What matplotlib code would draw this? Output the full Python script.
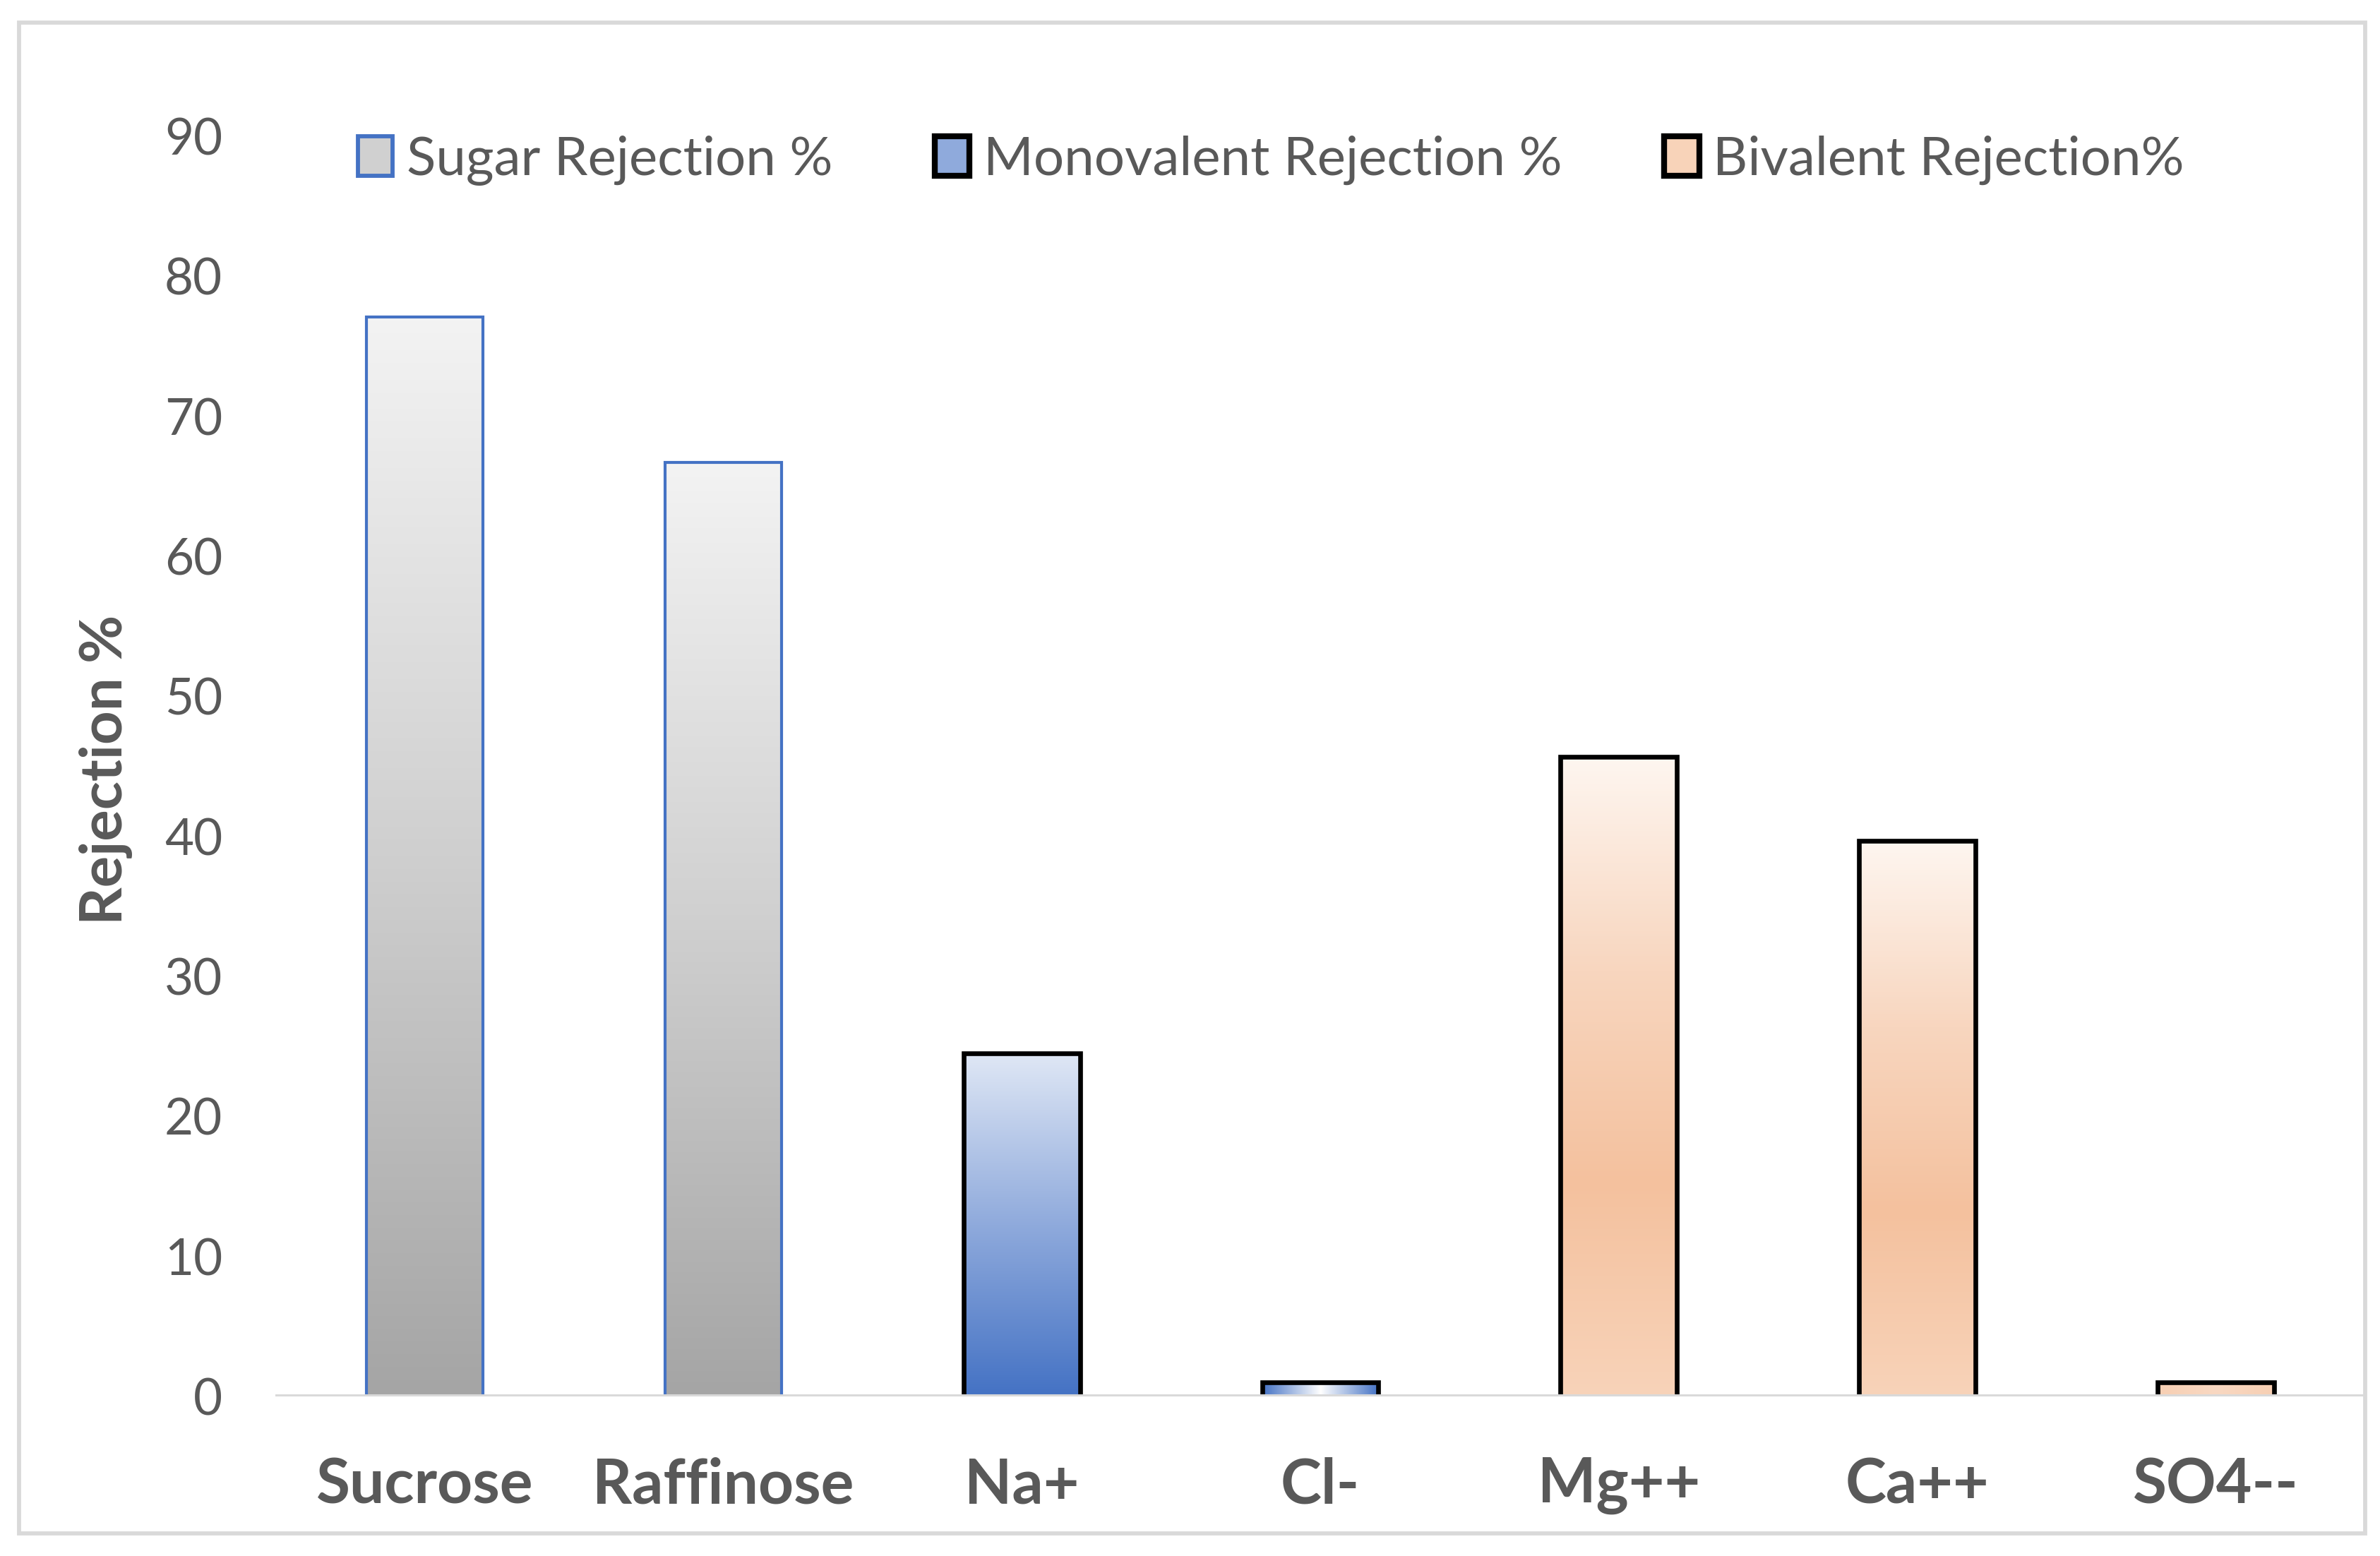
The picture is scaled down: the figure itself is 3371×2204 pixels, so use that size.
import numpy as np
import matplotlib.pyplot as plt
from matplotlib.colors import LinearSegmentedColormap
from matplotlib.patches import Patch, Rectangle

categories = ['Sucrose', 'Raffinose', 'Na+', 'Cl-', 'Mg++', 'Ca++', 'SO4--']
series = ['sugar', 'sugar', 'mono', 'mono', 'bi', 'bi', 'bi']
rejection = [77.1, 66.7, 24.5, 1.0, 45.7, 39.7, 1.0]
yticks = [0, 10, 20, 30, 40, 50, 60, 70, 80, 90]
legend_labels = ['Sugar Rejection %', 'Monovalent Rejection %', 'Bivalent Rejection%']

# gradient stops (bottom -> top), side shading for tiny bars, edge colour, edge width, legend colour
styles = {
    'sugar': (['#a5a5a5', '#cfcfcf', '#f3f3f3'], ['#a5a5a5', '#f3f3f3', '#a5a5a5'],
              '#4472c4', 1.0, '#d0d0d0'),
    'mono': (['#4472c4', '#8faadc', '#dfe7f5'], ['#4472c4', '#ffffff', '#4472c4'],
             '#000000', 1.6, '#8faadc'),
    'bi': (['#f8d3b9', '#f4c19e', '#f8d6bf', '#fef6f0'], ['#f7cfb3', '#f9d8c2', '#f7cfb3'],
           '#000000', 1.6, '#f8d3b9'),
}

TXT = '#595959'
plt.rcParams['font.family'] = ['Lato', 'DejaVu Sans']

fig = plt.figure(figsize=(3371 / 300, 2204 / 300), dpi=300)
ax = fig.add_axes([390 / 3371, 1 - 1978 / 2204, (3350 - 390) / 3371, (1978 - 193) / 2204])

x = np.arange(len(categories))
width = 0.39
bars = ax.bar(x, rejection, width=width, facecolor='none', zorder=2)

grad = np.linspace(0, 1, 256).reshape(256, 1)
for bar, s in zip(bars, series):
    stops, side, ec, lw, _ = styles[s]
    bar.set_edgecolor(ec)
    bar.set_linewidth(lw)
    bar.set_zorder(3)
    x0, w, h = bar.get_x(), bar.get_width(), bar.get_height()
    if h < 2:
        # tiny bars: excel shows a side-to-side shading
        cmap = LinearSegmentedColormap.from_list('g', side)
        img = ax.imshow(np.linspace(0, 1, 256).reshape(1, 256), cmap=cmap,
                        extent=[x0, x0 + w, 0, h], aspect='auto', zorder=2.5)
    else:
        cmap = LinearSegmentedColormap.from_list('g', stops)
        img = ax.imshow(grad, cmap=cmap, origin='lower',
                        extent=[x0, x0 + w, 0, h], aspect='auto', zorder=2.5)
    img.set_clip_path(bar)

ax.axhline(0, color='#d9d9d9', lw=1.7, zorder=4)

ax.set_xlim(-0.5, len(categories) - 0.5)
ax.set_ylim(0, 90)
ax.set_yticks(yticks)
ax.set_xticks(x)
ax.set_xticklabels(categories, fontsize=21, fontweight='bold', color=TXT)
ax.tick_params(axis='y', length=0, pad=18, labelsize=17, labelcolor=TXT)
ax.tick_params(axis='x', length=0, pad=20.5)
for sp in ax.spines.values():
    sp.set_visible(False)

fig.text(150 / 3371, 1 - 1090 / 2204, 'Rejection %', rotation=90, ha='center', va='center',
         fontsize=20, fontweight='bold', color=TXT)

handles = [Patch(facecolor=styles[k][4], edgecolor=styles[k][2], linewidth=styles[k][3] + 0.4)
           for k in ['sugar', 'mono', 'bi']]
leg = fig.legend(handles, legend_labels, loc='center', bbox_to_anchor=(0.534, 0.897),
                 ncol=3, frameon=False, fontsize=18.3, handlelength=0.65, handleheight=0.75,
                 handletextpad=0.25, columnspacing=1.9)
for t in leg.get_texts():
    t.set_color(TXT)

# outer chart border
fig.patches.append(Rectangle((27 / 3371, 1 - 2172 / 2204), (3350 - 27) / 3371, (2172 - 32) / 2204,
                             transform=fig.transFigure, fill=False, edgecolor='#d9d9d9', lw=1.4))

fig.savefig('out.png', dpi=300)
